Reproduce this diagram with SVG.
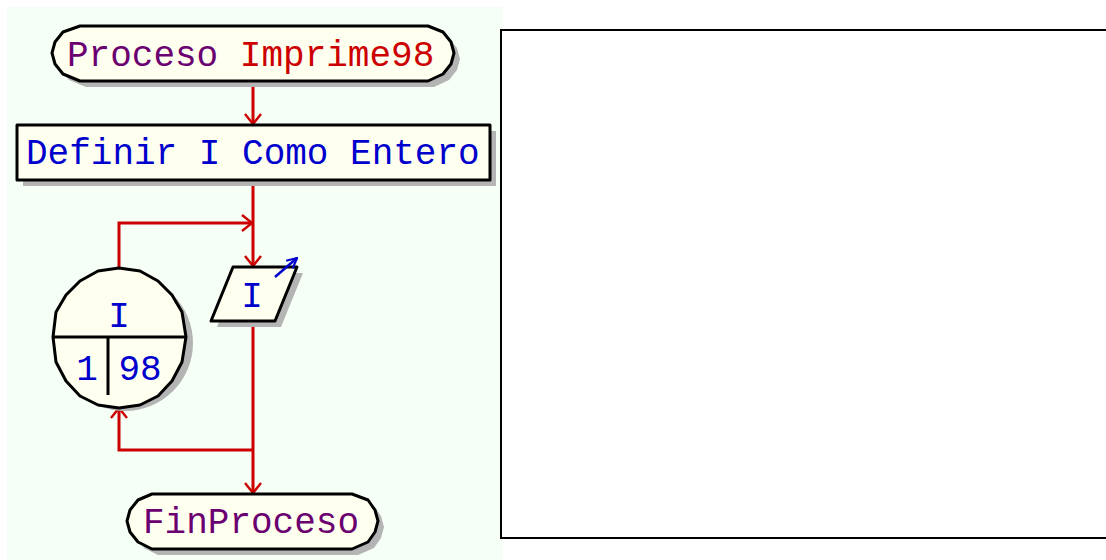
<svg xmlns="http://www.w3.org/2000/svg" width="1106" height="560" viewBox="0 0 1106 560">
<style>
.sh{fill:#b4b4b4;stroke:none}
.nd{fill:#fffff0;stroke:#000;stroke-width:3;stroke-linejoin:round}
.ln{fill:none;stroke:#cc0000;stroke-width:3}
.t{font-family:"Liberation Mono","DejaVu Sans Mono",monospace;font-size:36px}
.pu{fill:#6b0070}.rd{fill:#cc0000}.bl{fill:#0000cc}
</style>
<defs>
<marker id="arr" viewBox="0 0 12 18" refX="11" refY="9" markerWidth="12" markerHeight="18" markerUnits="userSpaceOnUse" orient="auto">
<path d="M1,1 L11,9 L1,17" fill="none" stroke="#cc0000" stroke-width="2.4"/>
</marker>
<marker id="barr" viewBox="0 0 12 12" refX="11" refY="6" markerWidth="12" markerHeight="12" markerUnits="userSpaceOnUse" orient="auto">
<path d="M1,1 L11,6 L1,11" fill="none" stroke="#0000cc" stroke-width="2.2"/>
</marker>
</defs>
<rect x="0" y="0" width="1106" height="560" fill="#fff"/>
<rect x="7" y="7" width="496" height="553" fill="#f6fff6"/>
<rect x="501" y="30" width="610" height="508" fill="#fff" stroke="#000" stroke-width="2"/>

<g id="connectors">
<path class="ln" d="M253,81 V124" marker-end="url(#arr)"/>
<path class="ln" d="M253,180 V266" marker-end="url(#arr)"/>
<path class="ln" d="M119,267 V223 H252" marker-end="url(#arr)"/>
<path class="ln" d="M253,321 V493" marker-end="url(#arr)"/>
<path class="ln" d="M253,450 H119 V408" marker-end="url(#arr)"/>
</g>

<g id="start">
<path class="sh" transform="translate(6,6)" d="M80,26 H428 L443,32 L451,42 L454,53 L451,64 L443,74 L428,81 H80 L63,74 L55,64 L52,53 L55,42 L63,32 Z"/>
<path class="nd" d="M80,26 H428 L443,32 L451,42 L454,53 L451,64 L443,74 L428,81 H80 L63,74 L55,64 L52,53 L55,42 L63,32 Z"/>
<text class="t" x="67" y="66"><tspan class="pu">Proceso </tspan><tspan class="rd">Imprime98</tspan></text>
</g>

<g id="definir">
<rect class="sh" x="23" y="131" width="473" height="55"/>
<rect class="nd" x="17" y="125" width="473" height="55"/>
<text class="t bl" x="26" y="164">Definir I Como Entero</text>
</g>

<g id="para">
<path class="sh" transform="translate(6,6)" d="M233,267 H297 L275,321 H211 Z"/>
<path class="nd" d="M233,267 H297 L275,321 H211 Z"/>
<text class="t bl" x="252" y="307" text-anchor="middle">I</text>
<path d="M275,277 L297,258" fill="none" stroke="#0000cc" stroke-width="2.5" marker-end="url(#barr)"/>
</g>

<g id="loop">
<circle class="sh" cx="125" cy="343" r="68"/>
<path class="nd" d="M119,268 L140,271 L158,281 L172,295 L182,312 L186,337 L182,362 L172,381 L158,396 L140,405 L119,408 L98,405 L80,396 L66,381 L56,362 L53,337 L56,312 L66,295 L80,281 L98,271 Z"/>
<path d="M53,337 H186 M108,337 V395" fill="none" stroke="#000" stroke-width="3"/>
<text class="t bl" x="119" y="327" text-anchor="middle">I</text>
<text class="t bl" x="87" y="380" text-anchor="middle">1</text>
<text class="t bl" x="140" y="380" text-anchor="middle">98</text>
</g>

<g id="end">
<path class="sh" transform="translate(6,6)" d="M152,494 H352 L368,500 L375,510 L378,521 L375,532 L368,542 L352,549 H152 L138,542 L130,532 L127,521 L130,510 L138,500 Z"/>
<path class="nd" d="M152,494 H352 L368,500 L375,510 L378,521 L375,532 L368,542 L352,549 H152 L138,542 L130,532 L127,521 L130,510 L138,500 Z"/>
<text class="t pu" x="143" y="533">FinProceso</text>
</g>
</svg>
